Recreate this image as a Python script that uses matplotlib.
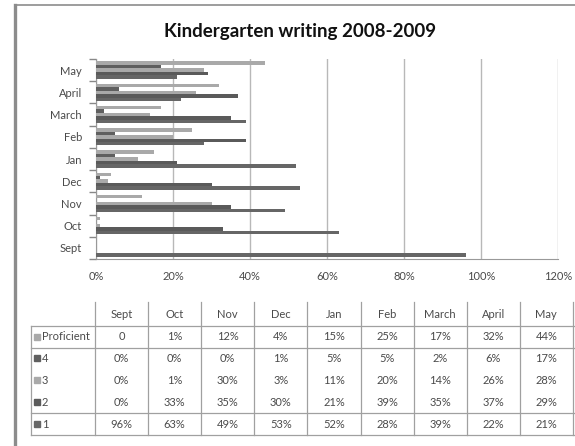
import numpy as np
import matplotlib
matplotlib.use('Agg')
import matplotlib.pyplot as plt
from matplotlib.ticker import FixedLocator, PercentFormatter

months = ['Sept', 'Oct', 'Nov', 'Dec', 'Jan', 'Feb', 'March', 'April', 'May']
series_names = ['1', '2', '3', '4', 'Proficient']
level_1 = [96, 63, 49, 53, 52, 28, 39, 22, 21]
level_2 = [0, 33, 35, 30, 21, 39, 35, 37, 29]
level_3 = [0, 1, 30, 3, 11, 20, 14, 26, 28]
level_4 = [0, 0, 0, 1, 5, 5, 2, 6, 17]
proficient = [0, 1, 12, 4, 15, 25, 17, 32, 44]
x_ticks = [0, 20, 40, 60, 80, 100, 120]

all_series = [level_1, level_2, level_3, level_4, proficient]
colors = ['#666666', '#5a5a5a', '#a9a9a9', '#5f5f5f', '#a9a9a9']

W, H = 575, 446
plt.rcParams['font.family'] = ['Lato', 'DejaVu Sans']
fig = plt.figure(figsize=(W / 100, H / 100), dpi=100)

# overlay in pixel coords for frame, title, table
ov = fig.add_axes([0, 0, 1, 1])
ov.set_xlim(0, W)
ov.set_ylim(H, 0)
ov.axis('off')
ov.plot([15, 15], [5, H], color='#8c8c8c', lw=2.4)
ov.plot([15, W], [5, 5], color='#8c8c8c', lw=1.2)
ov.text(300, 31, 'Kindergarten writing 2008-2009', ha='center', va='center',
        fontsize=13.5, fontweight='bold', color='#111111')

# bar chart
ax = fig.add_axes([96 / W, 1 - 259 / H, 462 / W, 200 / H])
y = np.arange(len(months))
bh = 0.156
for i, (vals, c) in enumerate(zip(all_series, colors)):
    ax.barh(y + (i - 2) * bh, vals, height=bh, color=c, zorder=3)
ax.set_xlim(0, 120)
ax.set_ylim(-0.5, len(months) - 0.5)
ax.xaxis.set_major_locator(FixedLocator(x_ticks))
ax.xaxis.set_major_formatter(PercentFormatter(decimals=0))
ax.grid(axis='x', color='#b8b8b8', lw=1, zorder=0)
ax.set_yticks(y)
ax.set_yticklabels(months)
ax.set_yticks(np.arange(-0.5, len(months)), minor=True)
ax.tick_params(axis='y', which='major', length=0, pad=10, labelsize=8, labelcolor='#4a4a4a')
ax.tick_params(axis='y', which='minor', length=5, color='#888888', width=1)
ax.tick_params(axis='x', length=0, pad=9, labelsize=8, labelcolor='#4a4a4a')
for s in ['top', 'right']:
    ax.spines[s].set_visible(False)
ax.spines['left'].set_color('#999999')
ax.spines['bottom'].set_color('#999999')

# data table
col_w = 53.1
x0 = 95
tab_left, tab_right = 31, W
row_y = [337, 358, 380, 402, 424]
line_c = '#a0a0a0'
for k, m in enumerate(months):
    ov.text(x0 + col_w * (k + 0.5), 315, m, ha='center', va='center',
            fontsize=8, color='#4a4a4a')
for k in range(len(months) + 1):
    xx = x0 + col_w * k
    ov.plot([xx, xx], [302, 435], color=line_c, lw=0.9)
ov.plot([tab_left, tab_left], [326, 435], color=line_c, lw=0.9)
for yy in [326, 348, 413, 435]:
    ov.plot([tab_left, tab_right], [yy, yy], color=line_c, lw=0.9)

order = [4, 3, 2, 1, 0]
for r, si in enumerate(order):
    yy = row_y[r]
    ov.add_patch(plt.Rectangle((34, yy - 3), 6, 6, color=colors[si]))
    ov.text(42, yy, series_names[si], ha='left', va='center', fontsize=8, color='#4a4a4a')
    for k, v in enumerate(all_series[si]):
        txt = '0' if (series_names[si] == 'Proficient' and v == 0) else f'{v}%'
        ov.text(x0 + col_w * (k + 0.5), yy, txt, ha='center', va='center',
                fontsize=8, color='#4a4a4a')

fig.savefig('out.png', dpi=100)
